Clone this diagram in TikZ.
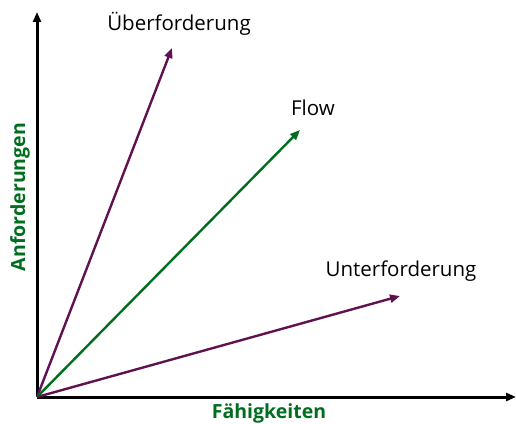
\documentclass[tikz,border=0pt]{standalone}
\usepackage{fontspec}
\setmainfont{Open Sans}
\usetikzlibrary{arrows.meta}
\definecolor{vlila}{RGB}{96,18,80}
\definecolor{vgruen}{RGB}{0,110,30}
\begin{document}
\begin{tikzpicture}
[x=1pt,y=1pt,>={Triangle[length=10pt,width=8pt]},
axis/.style = {draw, line width=3pt, ->},
vec/.style = {draw, line width=2.4pt, ->},
lab/.style = {font=\fontsize{20.5}{22}\selectfont, inner sep=0pt},
axlab/.style = {font=\fontsize{19.5}{21}\selectfont\bfseries, text=vgruen, inner sep=0pt},]
\useasboundingbox (0,0) rectangle (516,423);
\coordinate (O) at (37,26);
\coordinate (X) at (516,26);
\coordinate (Y) at (37,411);
\coordinate (U) at (172,375);
\coordinate (F) at (300,293);
\coordinate (N) at (400,127);
\draw[axis] (O)--(X);
\draw[axis] (O)--(Y);
\draw[vec, vlila] (O)--(U);
\draw[vec, vgruen] (O)--(F);
\draw[vec, vlila] (O)--(N);
\node[lab] (tU) at (179,399) {Überforderung};
\node[lab] (tF) at (313,315) {Flow};
\node[lab] (tN) at (401,152) {Unterforderung};
\node[axlab] (tX) at (269,10) {Fähigkeiten};
\node[axlab, rotate=90] (tY) at (20,226) {Anforderungen};

\end{tikzpicture}
\end{document}
